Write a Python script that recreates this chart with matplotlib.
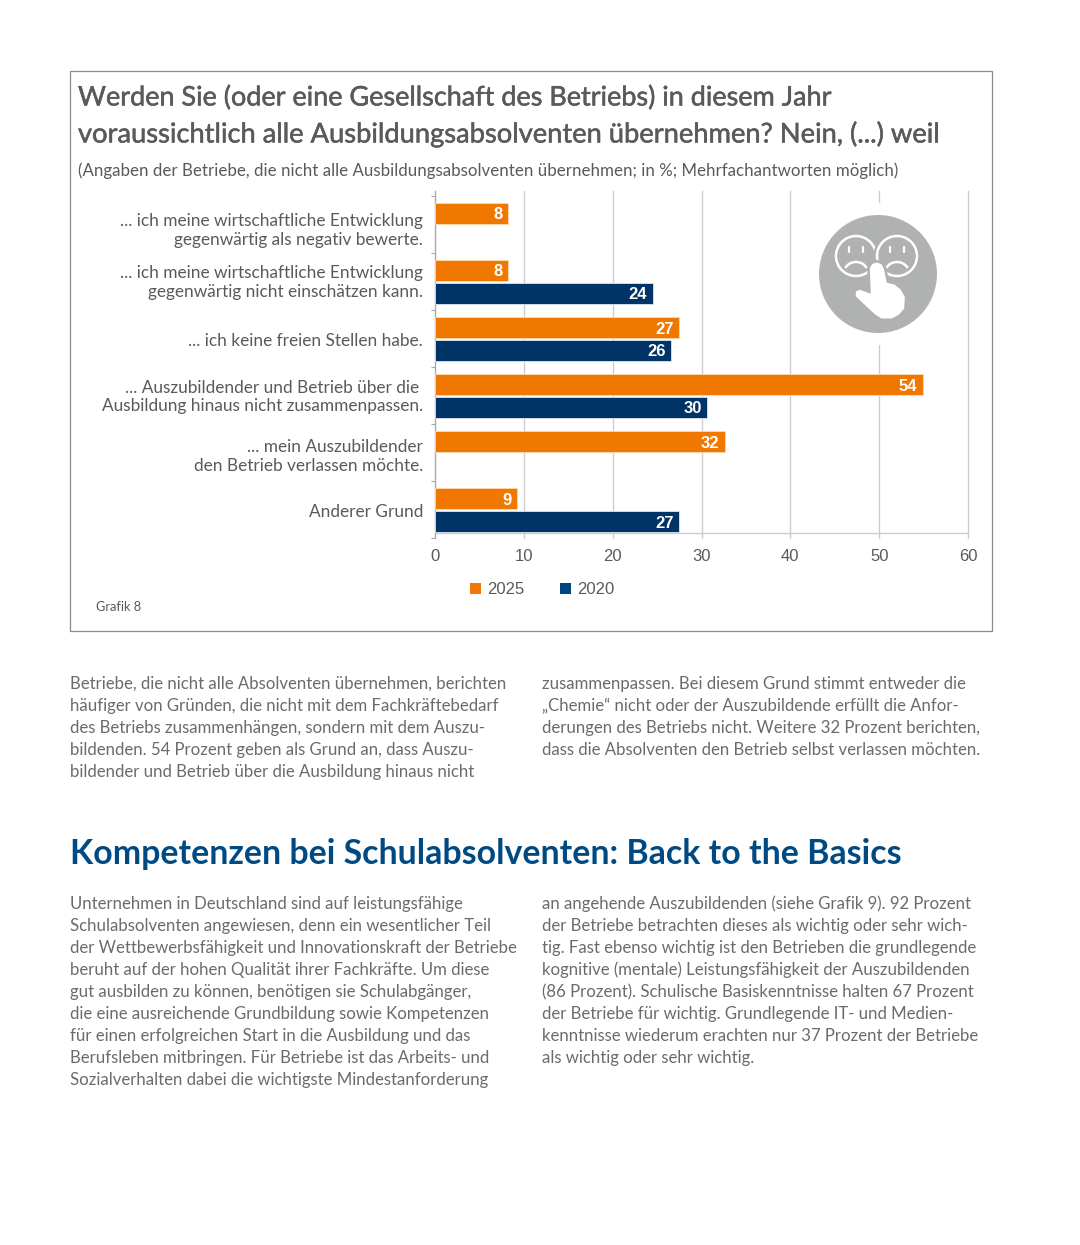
import numpy as np
import matplotlib
matplotlib.use("Agg")
import matplotlib.pyplot as plt
import matplotlib.patheffects as pe
from matplotlib.patches import Circle, Arc, Polygon, Rectangle

# chart data
categories = [
    "... ich meine wirtschaftliche Entwicklung\ngegenwärtig als negativ bewerte.",
    "... ich meine wirtschaftliche Entwicklung\ngegenwärtig nicht einschätzen kann.",
    "... ich keine freien Stellen habe.",
    "... Auszubildender und Betrieb über die\nAusbildung hinaus nicht zusammenpassen.",
    "... mein Auszubildender\nden Betrieb verlassen möchte.",
    "Anderer Grund",
]
values_2025 = [8.2, 8.2, 27.5, 54.9, 32.6, 9.2]
values_2020 = [np.nan, 24.5, 26.6, 30.6, np.nan, 27.5]
labels_2025 = ["8", "8", "27", "54", "32", "9"]
labels_2020 = ["", "24", "26", "30", "", "27"]
x_ticks = [0, 10, 20, 30, 40, 50, 60]

title_lines = [
    "Werden Sie (oder eine Gesellschaft des Betriebs) in diesem Jahr",
    "voraussichtlich alle Ausbildungsabsolventen übernehmen? Nein, (...) weil",
]
subtitle = "(Angaben der Betriebe, die nicht alle Ausbildungsabsolventen übernehmen; in %; Mehrfachantworten möglich)"
heading = "Kompetenzen bei Schulabsolventen: Back to the Basics"

para1_left = [
    "Betriebe, die nicht alle Absolventen übernehmen, berichten",
    "häufiger von Gründen, die nicht mit dem Fachkräftebedarf",
    "des Betriebs zusammenhängen, sondern mit dem Auszu-",
    "bildenden. 54 Prozent geben als Grund an, dass Auszu-",
    "bildender und Betrieb über die Ausbildung hinaus nicht",
]
para1_right = [
    "zusammenpassen. Bei diesem Grund stimmt entweder die",
    "„Chemie“ nicht oder der Auszubildende erfüllt die Anfor-",
    "derungen des Betriebs nicht. Weitere 32 Prozent berichten,",
    "dass die Absolventen den Betrieb selbst verlassen möchten.",
]
para2_left = [
    "Unternehmen in Deutschland sind auf leistungsfähige",
    "Schulabsolventen angewiesen, denn ein wesentlicher Teil",
    "der Wettbewerbsfähigkeit und Innovationskraft der Betriebe",
    "beruht auf der hohen Qualität ihrer Fachkräfte. Um diese",
    "gut ausbilden zu können, benötigen sie Schulabgänger,",
    "die eine ausreichende Grundbildung sowie Kompetenzen",
    "für einen erfolgreichen Start in die Ausbildung und das",
    "Berufsleben mitbringen. Für Betriebe ist das Arbeits- und",
    "Sozialverhalten dabei die wichtigste Mindestanforderung",
]
para2_right = [
    "an angehende Auszubildenden (siehe Grafik 9). 92 Prozent",
    "der Betriebe betrachten dieses als wichtig oder sehr wich-",
    "tig. Fast ebenso wichtig ist den Betrieben die grundlegende",
    "kognitive (mentale) Leistungsfähigkeit der Auszubildenden",
    "(86 Prozent). Schulische Basiskenntnisse halten 67 Prozent",
    "der Betriebe für wichtig. Grundlegende IT- und Medien-",
    "kenntnisse wiederum erachten nur 37 Prozent der Betriebe",
    "als wichtig oder sehr wichtig.",
]

ORANGE = "#f07800"
NAVY = "#003366"
LEGEND_NAVY = "#004480"
GREY_TEXT = "#5a5a5a"
BODY_TEXT = "#6b6b6b"
GRID = "#cccccc"
ICON = "#b0b2b1"
W, H = 1080, 1245
BODY_FONT = ["Lato", "DejaVu Sans"]
NUM_FONT = ["Liberation Sans", "DejaVu Sans"]

fig = plt.figure(figsize=(W / 100, H / 100), dpi=100, facecolor="white")

# bar chart, placed by pixel box
ax = fig.add_axes([435 / W, 1 - 538 / H, (968 - 435) / W, (538 - 191) / H])
y = np.arange(len(categories)) + 0.012
ax.barh(y - 0.2, values_2025, height=0.36, color=ORANGE, edgecolor="#fbd9b0", linewidth=0.6, zorder=3)
ax.barh(y + 0.2, values_2020, height=0.36, color=NAVY, edgecolor="#dfe6ee", linewidth=0.6, zorder=3)
ax.set_xlim(0, 60)
ax.set_ylim(5.5, -0.58)
ax.set_xticks(x_ticks)
ax.set_yticks(np.arange(len(categories) + 1) - 0.5)
ax.set_yticklabels([])
ax.xaxis.grid(True, color=GRID, linewidth=1.0, zorder=0)
for line in ax.get_xgridlines():
    line.set_clip_on(False)
ax.set_axisbelow(True)
for side in ["top", "right", "bottom"]:
    ax.spines[side].set_visible(False)
ax.spines["left"].set_color("#a8a8a8")
ax.tick_params(axis="y", length=3, color="#a8a8a8")
ax.tick_params(axis="x", length=0, pad=8, labelcolor=GREY_TEXT, labelsize=12)
for lab in ax.get_xticklabels():
    lab.set_family(NUM_FONT)
ax.axhline(5.42, color=GRID, linewidth=1.0, zorder=1)

for i, (v, s) in enumerate(zip(values_2025, labels_2025)):
    ax.text(v - 0.6, y[i] - 0.2, s, ha="right", va="center_baseline", color="white",
            fontsize=12, fontweight="bold", family=NUM_FONT, zorder=4)
for i, (v, s) in enumerate(zip(values_2020, labels_2020)):
    if s:
        ax.text(v - 0.6, y[i] + 0.2, s, ha="right", va="center_baseline", color="white",
                fontsize=12, fontweight="bold", family=NUM_FONT, zorder=4)

# overlay in pixel coordinates for frame, text and icon
ov = fig.add_axes([0, 0, 1, 1], facecolor="none")
ov.set_xlim(0, W)
ov.set_ylim(H, 0)
ov.axis("off")


def txt(x, yy, s, size, color=BODY_TEXT, ha="left", weight="normal", family=BODY_FONT, **kw):
    return ov.text(x, yy, s, fontsize=size, color=color, ha=ha, va="baseline",
                   fontweight=weight, family=family, **kw)


ov.add_patch(Rectangle((70, 71), 922, 560, fill=False, edgecolor="#8c8c8c", linewidth=0.9))
# the reference title is a bit heavier than Lato regular, thicken with a thin stroke
thick = [pe.withStroke(linewidth=0.35, foreground=GREY_TEXT)]
txt(78, 105.5, title_lines[0], 19.45, GREY_TEXT, path_effects=thick)
txt(78, 142.5, title_lines[1], 19.65, GREY_TEXT, path_effects=thick)
txt(78, 176, subtitle, 12.14, GREY_TEXT)

label_y = [[226, 245], [278, 297], [346], [393, 411], [452, 471], [517]]
for lines, ys in zip(categories, label_y):
    for line, yy in zip(lines.split("\n"), ys):
        # first line of the fourth label stops a few pixels short in the reference
        xr = 419 if line.endswith("über die") else 423
        txt(xr, yy, line, 12.4, GREY_TEXT, ha="right")

txt(96, 611, "Grafik 8", 9.2, GREY_TEXT)

# legend
ov.add_patch(Rectangle((470, 583), 11, 11, facecolor=ORANGE, edgecolor="none"))
ov.add_patch(Rectangle((560, 583), 11, 11, facecolor=LEGEND_NAVY, edgecolor="none"))
txt(487, 594, "2025", 12, GREY_TEXT, family=NUM_FONT)
txt(577, 594, "2020", 12, GREY_TEXT, family=NUM_FONT)

# icon
cx, cy = 878, 274
ov.add_patch(Circle((cx, cy), 71, facecolor="white", edgecolor="none"))
ov.add_patch(Circle((cx, cy), 59, facecolor=ICON, edgecolor="none"))
for fx in [856, 897]:
    ov.add_patch(Circle((fx, 256), 21.5, facecolor=ICON, edgecolor=ICON, linewidth=3))
    ov.add_patch(Circle((fx, 256), 20, fill=False, edgecolor="white", linewidth=1.8))
    for ex in [-7, 7]:
        ov.plot([fx + ex, fx + ex], [247, 252], color="white", linewidth=1.6, solid_capstyle="round")
    ov.add_patch(Arc((fx, 273), 24, 22, theta1=205, theta2=335, edgecolor="white", linewidth=1.8))
hand = np.array([
    [332, 265], [338, 254], [350, 250], [362, 254], [369, 266], [378, 310], [402, 316],
    [420, 330], [432, 352], [430, 385], [415, 402], [395, 413], [365, 413], [345, 400],
    [290, 348], [290, 336], [300, 332], [335, 345],
]) / 3 + np.array([760, 180])
ov.add_patch(Polygon(hand, closed=True, facecolor=ICON, edgecolor=ICON, linewidth=5, joinstyle="round"))
ov.add_patch(Polygon(hand, closed=True, facecolor="white", edgecolor="white", linewidth=1.2, joinstyle="round"))

# text below the chart
for x0, start, lines in [(70, 689, para1_left), (542, 689, para1_right),
                         (70, 909, para2_left), (542, 909, para2_right)]:
    for i, line in enumerate(lines):
        txt(x0, start + i * 22.05, line, 12.08)

txt(70, 864, heading, 24.4, "#004a84", weight="bold")

fig.savefig("out.png", dpi=100)
